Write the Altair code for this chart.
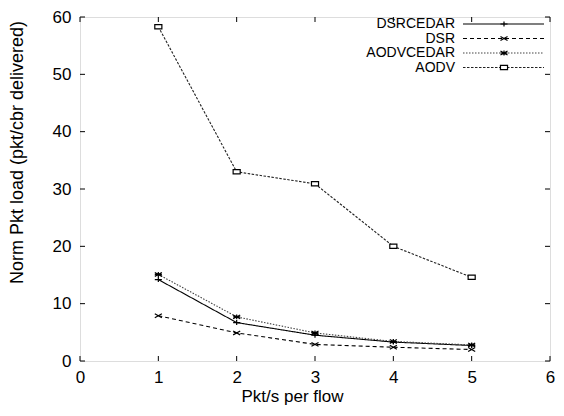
import altair as alt
import pandas as pd

rates = [1, 2, 3, 4, 5]
series = ["DSRCEDAR", "DSR", "AODVCEDAR", "AODV"]
dsrcedar = [14.2, 6.7, 4.5, 3.3, 2.7]
dsr = [7.9, 4.9, 2.9, 2.4, 2.0]
aodvcedar = [15.1, 7.7, 4.9, 3.4, 2.8]
aodv = [58.3, 33.0, 30.9, 20.0, 14.6]
x_ticks = [0, 1, 2, 3, 4, 5, 6]
y_ticks = [0, 10, 20, 30, 40, 50, 60]

values = {"DSRCEDAR": dsrcedar, "DSR": dsr, "AODVCEDAR": aodvcedar, "AODV": aodv}
rows = []
for s in series:
    for r, v in zip(rates, values[s]):
        rows.append({"rate": r, "load": v, "series": s})
df = pd.DataFrame(rows)

W, H = 470, 344
FONT = "Liberation Sans"

dash_scale = alt.Scale(domain=series, range=[[1, 0], [4, 3], [1.5, 1.5], [2.5, 1.5]])
color_scale = alt.Scale(domain=series, range=["#000000", "#000000", "#444444", "#222222"])
shape_scale = alt.Scale(
    domain=series,
    range=[
        "M-1,0L1,0M0,-0.7L0,0.7",
        "M-1,-0.55L1,0.55M-1,0.55L1,-0.55",
        "M-1,-0.55L1,0.55M-1,0.55L1,-0.55M-1,0L1,0M0,-0.7L0,0.7",
        "M-1,-0.6L1,-0.6L1,0.6L-1,0.6Z",
    ],
)

x_enc = alt.X(
    "rate:Q",
    scale=alt.Scale(domain=[0, 6], nice=False),
    axis=alt.Axis(
        values=x_ticks, format="d", title="Pkt/s per flow", domain=False, ticks=False, grid=False,
        labelFont=FONT, labelFontSize=17, labelColor="#000", labelPadding=8,
        labelFlush=False, labelOverlap=False,
        titleFont=FONT, titleFontSize=17, titleFontWeight="normal", titleColor="#000",
        titleX=212, titleY=35, titleBaseline="middle",
    ),
)
y_enc = alt.Y(
    "load:Q",
    scale=alt.Scale(domain=[0, 60], nice=False),
    axis=alt.Axis(
        values=y_ticks, format="d", title="Norm Pkt load (pkt/cbr delivered)", domain=False,
        ticks=False, grid=False, labelFont=FONT, labelFontSize=17, labelColor="#000",
        labelPadding=9, labelFlush=False, labelOverlap=False,
        titleFont=FONT, titleFontSize=18, titleFontWeight="normal", titleColor="#000",
        titleX=-63, titleY=135, titleAngle=270, titleBaseline="middle", titleAlign="center",
    ),
)

lines = alt.Chart(df).mark_line(strokeWidth=1.1).encode(
    x=x_enc,
    y=y_enc,
    strokeDash=alt.StrokeDash("series:N", scale=dash_scale, legend=None),
    color=alt.Color("series:N", scale=color_scale, legend=None),
    detail="series:N",
)

points = alt.Chart(df).mark_point(filled=False, size=50, strokeWidth=1.2, fill="white", fillOpacity=1).encode(
    x="rate:Q",
    y="load:Q",
    shape=alt.Shape("series:N", scale=shape_scale, legend=None),
    stroke=alt.value("#000"),
)

xt = pd.DataFrame({"rate": x_ticks})
yt = pd.DataFrame({"load": y_ticks})
tick_x_bottom = alt.Chart(xt).mark_rule(color="#000", strokeWidth=1).encode(
    x="rate:Q", y=alt.value(H), y2=alt.value(H - 5))
tick_x_top = alt.Chart(xt).mark_rule(color="#000", strokeWidth=1).encode(
    x="rate:Q", y=alt.value(0), y2=alt.value(5))
tick_y_left = alt.Chart(yt).mark_rule(color="#000", strokeWidth=1).encode(
    y="load:Q", x=alt.value(0), x2=alt.value(5))
tick_y_right = alt.Chart(yt).mark_rule(color="#000", strokeWidth=1).encode(
    y="load:Q", x=alt.value(W), x2=alt.value(W - 5))

legend_layers = []
for i, s in enumerate(series):
    ly = 7 + 14.5 * i
    ldf = pd.DataFrame({"series": [s]})
    legend_layers.append(
        alt.Chart(ldf).mark_text(align="right", baseline="middle", font=FONT, fontSize=14, color="#000").encode(
            text="series:N", x=alt.value(375), y=alt.value(ly))
    )
    legend_layers.append(
        alt.Chart(ldf).mark_rule(strokeWidth=1.1).encode(
            x=alt.value(383), x2=alt.value(464), y=alt.value(ly),
            strokeDash=alt.StrokeDash("series:N", scale=dash_scale, legend=None),
            color=alt.Color("series:N", scale=color_scale, legend=None))
    )
    legend_layers.append(
        alt.Chart(ldf).mark_point(filled=False, size=50, strokeWidth=1.2, fill="white", fillOpacity=1).encode(
            x=alt.value(424), y=alt.value(ly),
            shape=alt.Shape("series:N", scale=shape_scale, legend=None),
            stroke=alt.value("#000"))
    )

chart = alt.layer(
    lines, points, tick_x_bottom, tick_x_top, tick_y_left, tick_y_right, *legend_layers
).properties(
    width=W, height=H,
    autosize=alt.AutoSizeParams(type="none"),
    padding={"left": 72, "top": 9, "right": 6, "bottom": 45},
).configure_view(stroke="#000", strokeWidth=1.5).configure(background="white")

chart.save("out.html", embed_options={"renderer": "svg", "actions": False})
